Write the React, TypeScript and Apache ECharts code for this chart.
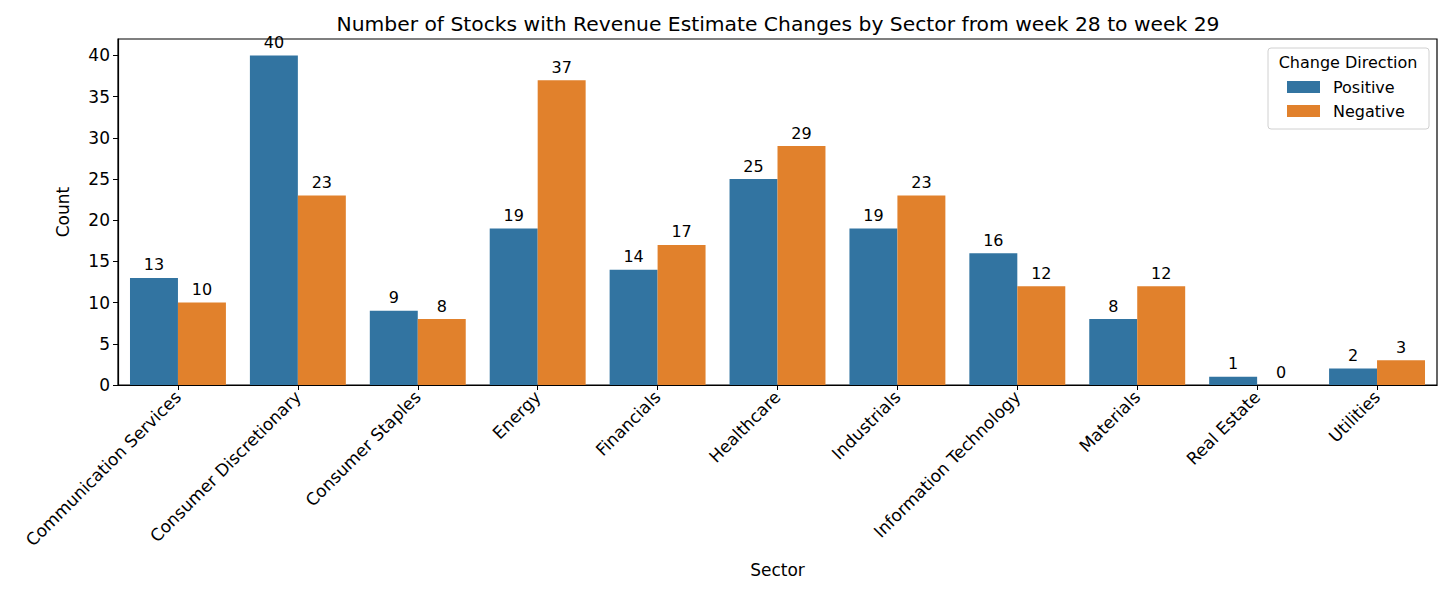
import React, { useEffect, useRef } from "react";
import * as echarts from "echarts";

const categories = [
  "Communication Services",
  "Consumer Discretionary",
  "Consumer Staples",
  "Energy",
  "Financials",
  "Healthcare",
  "Industrials",
  "Information Technology",
  "Materials",
  "Real Estate",
  "Utilities",
];
const positive = [13, 40, 9, 19, 14, 25, 19, 16, 8, 1, 2];
const negative = [10, 23, 8, 37, 17, 29, 23, 12, 12, 0, 3];
const seriesNames = ["Positive", "Negative"];
const colors = ["#3274a1", "#e1812c"];
const yTicks = { min: 0, max: 42, interval: 5 };

const FONT = "DejaVu Sans";
const TICK_FS = 17;

export default function App() {
  const ref = useRef<HTMLDivElement>(null);
  useEffect(() => {
    if (!ref.current) return;
    const chart = echarts.init(ref.current, undefined, { renderer: "svg" });
    const mkSeries = (name: string, data: number[], color: string) => ({
      type: "bar",
      name,
      data,
      barGap: "0%",
      barCategoryGap: "20%",
      itemStyle: { color },
      label: {
        show: true,
        position: "top",
        distance: 5,
        color: "#000",
        fontFamily: FONT,
        fontSize: 16,
      },
    });
    chart.setOption({
      animation: false,
      backgroundColor: "#fff",
      textStyle: { fontFamily: FONT },
      title: {
        text: "Number of Stocks with Revenue Estimate Changes by Sector from week 28 to week 29",
        left: 773,
        textAlign: "center",
        top: 9,
        textStyle: { fontFamily: FONT, fontSize: 20.3, fontWeight: "normal", color: "#000" },
      },
      grid: {
        left: 118,
        top: 39,
        right: 19,
        bottom: 206,
        show: true,
        borderColor: "#000",
        borderWidth: 1.2,
        backgroundColor: "transparent",
      },
      legend: {
        data: seriesNames,
        orient: "vertical",
        left: 1287,
        top: 79,
        padding: 0,
        itemWidth: 33,
        itemHeight: 12,
        itemGap: 8,
        icon: "rect",
        textStyle: { fontFamily: FONT, fontSize: 16, color: "#000", padding: [0, 0, 0, 8] },
      },
      graphic: [
        {
          type: "rect",
          shape: { x: 1268, y: 48, width: 161, height: 81, r: 3 },
          style: { fill: "rgba(255,255,255,0.8)", stroke: "#d0d0d0", lineWidth: 1 },
          z: 0,
        },
        {
          type: "text",
          x: 1348,
          y: 62,
          style: {
            text: "Change Direction",
            fontFamily: FONT,
            fontSize: 16,
            fill: "#000",
            align: "center",
            verticalAlign: "middle",
          },
          z: 1,
        },
      ],
      xAxis: {
        type: "category",
        data: categories,
        name: "Sector",
        nameLocation: "middle",
        nameGap: 176,
        nameTextStyle: { fontFamily: FONT, fontSize: TICK_FS, color: "#000" },
        axisLine: { show: true, lineStyle: { color: "#000", width: 1.2 } },
        axisTick: { show: true, alignWithLabel: true, interval: 0, length: 5, lineStyle: { color: "#000" } },
        axisLabel: {
          interval: 0,
          rotate: 45,
          margin: 9,
          fontFamily: FONT,
          fontSize: TICK_FS,
          color: "#000",
        },
      },
      yAxis: {
        type: "value",
        min: yTicks.min,
        max: yTicks.max,
        interval: yTicks.interval,
        name: "Count",
        nameLocation: "middle",
        nameGap: 47,
        nameTextStyle: { fontFamily: FONT, fontSize: TICK_FS, color: "#000" },
        splitLine: { show: false },
        axisLine: { show: true, lineStyle: { color: "#000", width: 1.2 } },
        axisTick: { show: true, length: 5, lineStyle: { color: "#000" } },
        axisLabel: {
          fontFamily: FONT,
          fontSize: TICK_FS,
          color: "#000",
          margin: 8,
          showMaxLabel: false,
          formatter: (v: number) => (v % 5 === 0 ? String(v) : ""),
        },
      },
      series: [
        mkSeries(seriesNames[0], positive, colors[0]),
        mkSeries(seriesNames[1], negative, colors[1]),
      ],
    });
    return () => chart.dispose();
  }, []);
  return (
    <div
      ref={ref}
      style={{ position: "fixed", left: 0, top: 0, width: 1456, height: 591 }}
    />
  );
}
